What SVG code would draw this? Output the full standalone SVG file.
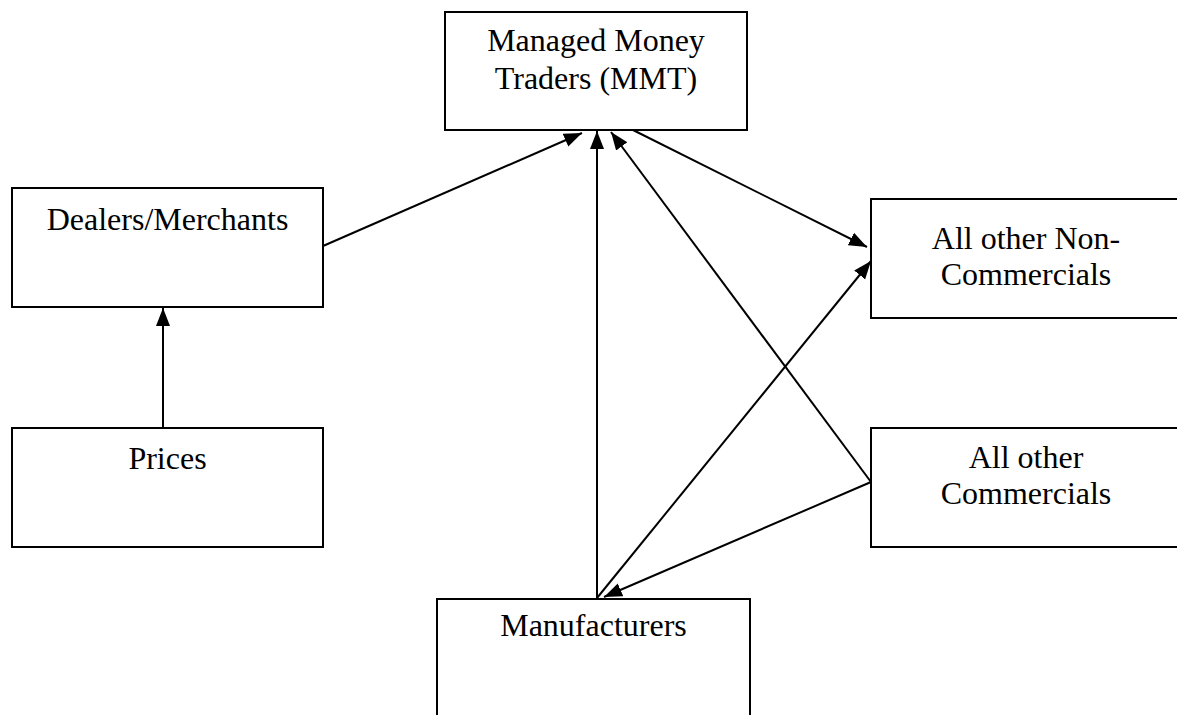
<svg xmlns="http://www.w3.org/2000/svg" width="1177" height="715" viewBox="0 0 1177 715">
<style>
.box{fill:#fff;stroke:#000;stroke-width:2}
.t{font-family:"Liberation Serif","Times New Roman",serif;font-size:32px;fill:#000;text-anchor:middle}
.c{stroke:#000;stroke-width:2;fill:none;marker-end:url(#ah)}
</style>
<defs>
<marker id="ah" markerUnits="userSpaceOnUse" markerWidth="20" markerHeight="16" refX="18" refY="8" orient="auto">
<path d="M0,1 L18,8 L0,15 Z" fill="#000"/>
</marker>
</defs>
<rect width="1177" height="715" fill="#fff"/>
<g id="mmt"><rect class="box" x="445" y="12" width="302" height="118"/><text class="t" x="596" y="51">Managed Money</text><text class="t" x="596" y="89">Traders (MMT)</text></g>
<g id="dealers"><rect class="box" x="12" y="188" width="311" height="119"/><text class="t" x="167.5" y="230">Dealers/Merchants</text></g>
<g id="noncomm"><rect class="box" x="871" y="199" width="312" height="119"/><text class="t" x="1026" y="249">All other Non-</text><text class="t" x="1026" y="285">Commercials</text></g>
<g id="comm"><rect class="box" x="871" y="428" width="312" height="119"/><text class="t" x="1026" y="468">All other</text><text class="t" x="1026" y="504">Commercials</text></g>
<g id="prices"><rect class="box" x="12" y="428" width="311" height="119"/><text class="t" x="167.5" y="469">Prices</text></g>
<g id="manuf"><rect class="box" x="437" y="599" width="313" height="130"/><text class="t" x="593.5" y="636">Manufacturers</text></g>
<g id="connectors">
<line class="c" x1="323" y1="246" x2="582" y2="133"/>
<line class="c" x1="597" y1="599" x2="597" y2="131"/>
<line class="c" x1="871" y1="482" x2="611" y2="132"/>
<line class="c" x1="633" y1="130" x2="867" y2="247"/>
<line class="c" x1="597" y1="598" x2="871" y2="261"/>
<line class="c" x1="871" y1="482" x2="604" y2="597"/>
<line class="c" x1="163" y1="428" x2="163" y2="308"/>
</g>
</svg>
